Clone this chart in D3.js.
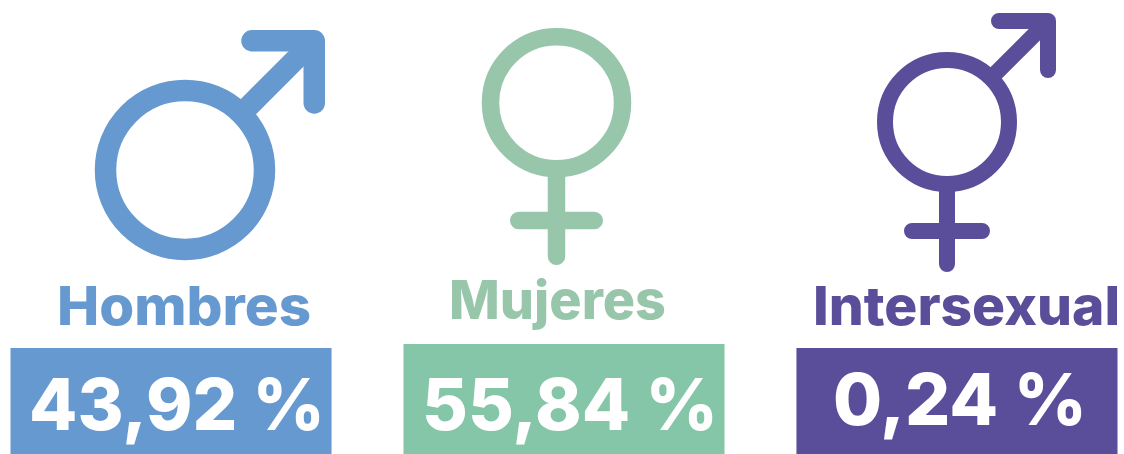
<!DOCTYPE html>
<html>
<head>
<meta charset="utf-8">
<script src="https://cdn.jsdelivr.net/npm/d3@7"></script>
<style>
  html, body { margin: 0; padding: 0; background: #fff; }
  svg { display: block; }
  text { font-family: Inter, "Open Sans", sans-serif; }
</style>
</head>
<body>
<div id="chart"></div>
<script>
const categories = ["Hombres", "Mujeres", "Intersexual"]
const percentages = [43.92, 55.84, 0.24]
const symbols = ["male", "female", "both"]
const boxColors = ["#6699cf", "#84c6a7", "#5a4e9a"]
const iconColors = ["#6699cf", "#97c6aa", "#5a4e9a"]

const width = 1124
const height = 454

const svg = d3.select("#chart").append("svg").attr("width", width).attr("height", height)

// las tres cajas tienen el mismo ancho y paso
const x = d3.scaleBand().domain(categories).range([10.5, 1117.5]).paddingInner(0.183)

// coma decimal
const fmt = d3.formatLocale({decimal: ",", thousands: ".", grouping: [3], currency: ["", ""]}).format(".2f")

// ajustes a mano de cada columna
const layout = {
  Hombres: {boxTop: 348, labelX: 57, labelW: 254, labelY: 325, labelSize: 54, numX: 29, numW: 296, numY: 430, numSize: 72,
    cx: 185, cy: 170, r: 79.5, sw: 21.5, arrow: [325, 30], arrowLen: 73},
  Mujeres: {boxTop: 344, labelX: 449, labelW: 217, labelY: 319, labelSize: 54, numX: 422, numW: 296, numY: 430, numSize: 72,
    cx: 556.5, cy: 102.7, r: 66, sw: 17.5, stem: 265, barY: 220.5, barHalf: 46.5},
  Intersexual: {boxTop: 348, labelX: 813, labelW: 307, labelY: 325, labelSize: 54, numX: 833, numW: 254, numY: 425, numSize: 72,
    cx: 947, cy: 122, r: 62, sw: 16, arrow: [1056, 13], arrowLen: 57, stem: 272, barY: 231, barHalf: 43}
}

function drawIcon(g, c, color, kind) {
  const stroke = (d) => g.append("path")
    .attr("d", d)
    .attr("fill", "none")
    .attr("stroke", color)
    .attr("stroke-width", c.sw)
    .attr("stroke-linecap", "round")
    .attr("stroke-linejoin", "round")

  g.append("circle")
    .attr("cx", c.cx).attr("cy", c.cy).attr("r", c.r)
    .attr("fill", "none").attr("stroke", color).attr("stroke-width", c.sw)

  if (kind !== "female") {
    const h = c.sw / 2
    const tipX = c.arrow[0] - h
    const tipY = c.arrow[1] + h
    const p = d3.path()
    p.moveTo(tipX - c.arrowLen + h, tipY)
    p.lineTo(tipX, tipY)
    p.lineTo(tipX, tipY + c.arrowLen - h)
    stroke(p.toString())
    const shaft = d3.path()
    const a = Math.atan2(tipY - c.cy, tipX - c.cx)
    shaft.moveTo(c.cx + c.r * Math.cos(a), c.cy + c.r * Math.sin(a))
    shaft.lineTo(tipX, tipY)
    g.append("path").attr("d", shaft.toString()).attr("fill", "none")
      .attr("stroke", color).attr("stroke-width", c.sw)
  }
  if (kind !== "male") {
    const p = d3.path()
    p.moveTo(c.cx, c.cy + c.r)
    p.lineTo(c.cx, c.stem - c.sw / 2)
    p.moveTo(c.cx - c.barHalf + c.sw / 2, c.barY)
    p.lineTo(c.cx + c.barHalf - c.sw / 2, c.barY)
    stroke(p.toString())
  }
}

categories.forEach((cat, i) => {
  const c = layout[cat]
  const g = svg.append("g").attr("class", "col")

  drawIcon(g, c, iconColors[i], symbols[i])

  g.append("text")
    .attr("x", c.labelX).attr("y", c.labelY)
    .attr("font-size", c.labelSize).attr("font-weight", 800)
    .attr("fill", iconColors[i])
    .attr("textLength", c.labelW).attr("lengthAdjust", "spacingAndGlyphs")
    .text(cat)

  g.append("rect")
    .attr("x", x(cat)).attr("y", c.boxTop)
    .attr("width", x.bandwidth()).attr("height", height - c.boxTop)
    .attr("fill", boxColors[i])

  g.append("text")
    .attr("x", c.numX).attr("y", c.numY)
    .attr("font-size", c.numSize).attr("font-weight", 800)
    .attr("fill", "#fff")
    .attr("textLength", c.numW).attr("lengthAdjust", "spacingAndGlyphs")
    .text(fmt(percentages[i]) + " %")
})
</script>
</body>
</html>
